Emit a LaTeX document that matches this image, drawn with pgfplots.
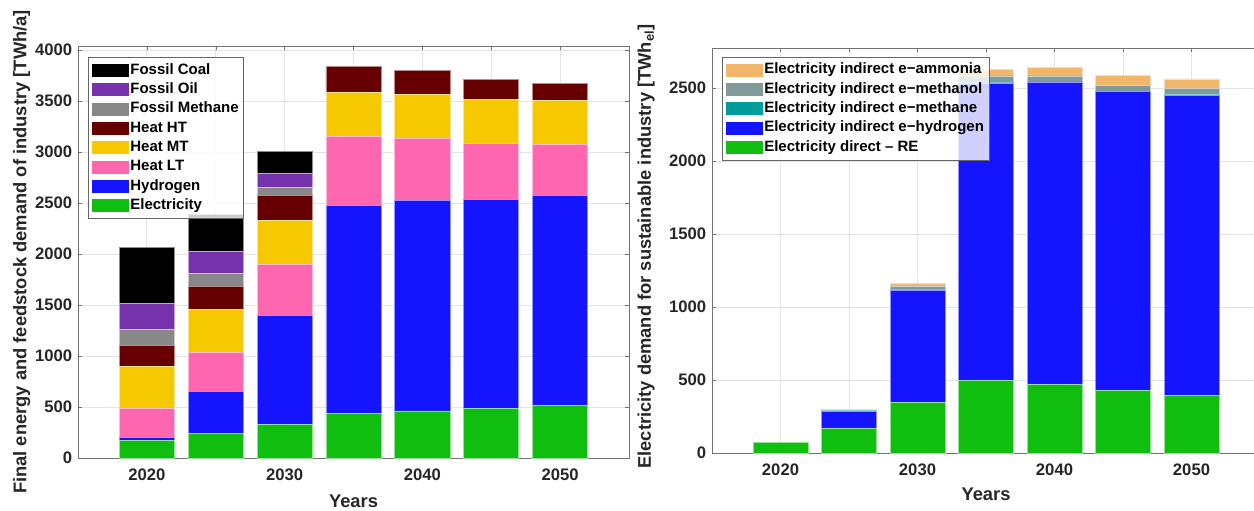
\documentclass[border=0pt]{standalone}
\usepackage{fontspec}
\setmainfont{Liberation Sans}
\usepackage{pgfplots}
\pgfplotsset{compat=1.18}
\usepackage{pgfplotstable}

\definecolor{cElec}{RGB}{16,190,16}
\definecolor{cH2}{RGB}{20,20,255}
\definecolor{cLT}{RGB}{255,102,176}
\definecolor{cMT}{RGB}{245,200,0}
\definecolor{cHT}{RGB}{102,0,0}
\definecolor{cMeth}{RGB}{136,136,136}
\definecolor{cOil}{RGB}{118,50,170}
\definecolor{cCoal}{RGB}{0,0,0}
\definecolor{cAmm}{RGB}{242,182,106}
\definecolor{cMol}{RGB}{128,153,153}
\definecolor{cMeth2}{RGB}{0,155,155}
\definecolor{txt}{RGB}{38,38,38}

\pgfplotstableread{
year Elec H2   LT  MT  HT  Meth Oil Coal
2020 173  30   281 418 206 153  252 549
2025 239  415  385 422 222 131  212 366
2030 327  1072 496 438 239 78   141 216
2035 441  2039 674 431 255 0    0   0
2040 461  2068 608 425 235 0    0   0
2045 490  2049 546 428 196 0    0   0
2050 513  2062 503 425 167 0    0   0
}\lefttab

\pgfplotstableread{
year Elec H2   Meth Mol Amm
2020 71   0    0    0   0
2025 169  118  2    5   7
2030 349  768  3    20  23
2035 497  2039 3    45  45
2040 470  2070 2    42  59
2045 429  2048 3    40  68
2050 395  2057 3    42  66
}\righttab

\pgfplotsset{
  mybase/.style={
    scale only axis,
    anchor=south west,
    xmin=2015, xmax=2055, ymin=0,
    ybar stacked, bar width=4,
    xtick={2020,2025,...,2050},
    xticklabels={2020,,2030,,2040,,2050},
    grid=major,
    major grid style={black!11, line width=0.5pt},
    tick align=inside,
    major tick length=2.6pt,
    axis line style={black!55},
    tick style={black!55},
    ticklabel style={font=\bfseries\fontsize{10}{12}\selectfont, text=txt},
    xticklabel style={yshift=-3pt},
    /pgf/number format/assume math mode=true,
    /pgf/number format/1000 sep={},
    label style={font=\bfseries\fontsize{11}{13}\selectfont, text=txt},
    legend cell align=left,
    reverse legend,
    legend image code/.code={\path[##1, draw=none, fill opacity=1] (0pt,-3.9pt) rectangle (22.2pt,3.9pt);},
    legend style={
      font=\bfseries\fontsize{9}{9}\selectfont,
      draw=black!60, line width=0.5pt,
      fill=white, fill opacity=0.8, draw opacity=1, text opacity=1,
      anchor=north west,
      row sep=0pt,
      inner sep=2pt,
      nodes={inner sep=1pt, text height=7pt, text depth=2.6pt},
    },
  },
}

\begin{document}
\begin{tikzpicture}

\begin{axis}[mybase,
  at={(46.8pt,31.2pt)},
  width=330.6pt, height=247.2pt,
  ymax=4040,
  ytick={0,500,...,4000},
  ylabel={Final energy and feedstock demand of industry [TWh/a]},
  ylabel style={at={(axis description cs:-0.102,0.5)}, anchor=center},
  xlabel={Years},
  xlabel style={at={(axis description cs:0.5,0)}, anchor=base, yshift=-29.4pt},
  legend style={at={(axis description cs:0.018,0.973)}},
]
\addplot[fill=cElec, draw=cElec!45!white, line width=0.4pt] table[x=year,y=Elec]{\lefttab};
\addlegendentry{Electricity}
\addplot[fill=cH2, draw=cH2!45!white, line width=0.4pt] table[x=year,y=H2]{\lefttab};
\addlegendentry{Hydrogen}
\addplot[fill=cLT, draw=cLT!45!white, line width=0.4pt] table[x=year,y=LT]{\lefttab};
\addlegendentry{Heat LT}
\addplot[fill=cMT, draw=cMT!45!white, line width=0.4pt] table[x=year,y=MT]{\lefttab};
\addlegendentry{Heat MT}
\addplot[fill=cHT, draw=cHT!45!white, line width=0.4pt] table[x=year,y=HT]{\lefttab};
\addlegendentry{Heat HT}
\addplot[fill=cMeth, draw=cMeth!45!white, line width=0.4pt] table[x=year,y=Meth]{\lefttab};
\addlegendentry{Fossil Methane}
\addplot[fill=cOil, draw=cOil!45!white, line width=0.4pt] table[x=year,y=Oil]{\lefttab};
\addlegendentry{Fossil Oil}
\addplot[fill=cCoal, draw=cCoal!45!white, line width=0.4pt] table[x=year,y=Coal]{\lefttab};
\addlegendentry{Fossil Coal}
\end{axis}

\begin{axis}[mybase,
  at={(427.2pt,34.2pt)},
  width=328.8pt, height=243pt,
  ymax=2775,
  ytick={0,500,...,2500},
  ylabel={Electricity demand for sustainable industry [TWh\textsubscript{el}]},
  ylabel style={at={(axis description cs:-0.1204,0.51)}, anchor=center},
  xlabel={Years},
  xlabel style={at={(axis description cs:0.5,0)}, anchor=base, yshift=-28.2pt},
  legend style={at={(axis description cs:0.018,0.978)}},
]
\addplot[fill=cElec, draw=cElec!45!white, line width=0.4pt] table[x=year,y=Elec]{\righttab};
\addlegendentry{Electricity direct -- RE}
\addplot[fill=cH2, draw=cH2!45!white, line width=0.4pt] table[x=year,y=H2]{\righttab};
\addlegendentry{Electricity indirect e\textminus hydrogen}
\addplot[fill=cMeth2, draw=cMeth2!45!white, line width=0.4pt] table[x=year,y=Meth]{\righttab};
\addlegendentry{Electricity indirect e\textminus methane}
\addplot[fill=cMol, draw=cMol!45!white, line width=0.4pt] table[x=year,y=Mol]{\righttab};
\addlegendentry{Electricity indirect e\textminus methanol}
\addplot[fill=cAmm, draw=cAmm!45!white, line width=0.4pt] table[x=year,y=Amm]{\righttab};
\addlegendentry{Electricity indirect e\textminus ammonia}
\end{axis}

\pgfresetboundingbox
\path (0pt,0pt) rectangle (752.4pt,306pt);
\end{tikzpicture}
\end{document}
